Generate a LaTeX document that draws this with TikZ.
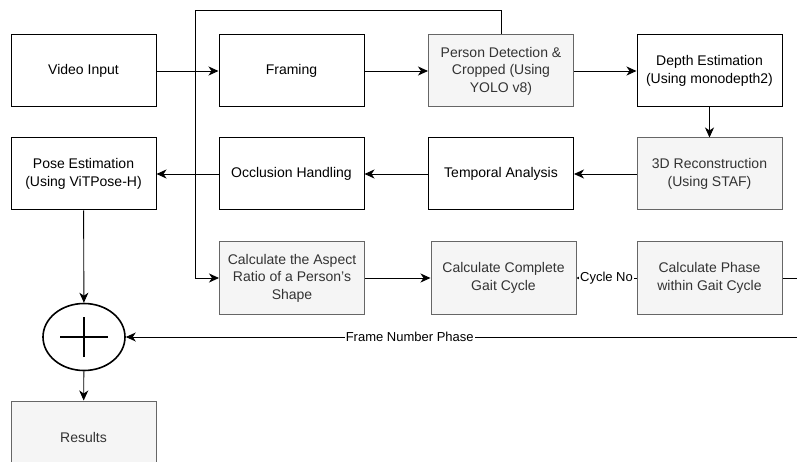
\documentclass[tikz,border=0pt]{standalone}
\usepackage{fontspec}
\setmainfont{Liberation Sans}
\usetikzlibrary{arrows.meta,shapes.geometric}
\definecolor{gfill}{HTML}{F5F5F5}
\definecolor{gline}{HTML}{666666}
\definecolor{gtext}{HTML}{333333}
\tikzset{
  base/.style={rectangle, minimum width=145pt, minimum height=72pt, align=center, inner sep=2pt,
    font=\fontsize{14}{17.5}\selectfont, line width=1pt},
  wbox/.style={base, draw=black, fill=white, text=black},
  gbox/.style={base, draw=gline, fill=gfill, text=gtext},
  arr/.style={draw=black, line width=0.9pt, -{Stealth[length=10pt,width=9pt,inset=3pt]}},
  smallarr/.style={draw=black, line width=0.9pt, -{Stealth[length=3pt,width=3pt]}},
  elabel/.style={fill=white, inner sep=1pt, text=black, font=\fontsize{13}{15}\selectfont},
}
\begin{document}
\begin{tikzpicture}[x=1pt,y=-1pt]
\useasboundingbox (0,0) rectangle (797,462);
\node[wbox] (video) at (83.5,71) {Video Input};
\node[wbox] (framing) at (291.5,71) {Framing};
\node[gbox] (person) at (501,71) {Person Detection \&\\Cropped (Using\\YOLO v8)};
\node[wbox] (depth) at (709.5,71) {Depth Estimation\\(Using monodepth2)};
\node[wbox] (pose) at (83.5,174) {Pose Estimation\\(Using ViTPose-H)};
\node[wbox] (occl) at (291.5,174) {Occlusion Handling};
\node[wbox] (temporal) at (501,174) {Temporal Analysis};
\node[gbox] (recon) at (709.5,174) {3D Reconstruction\\(Using STAF)};
\node[gbox] (aspect) at (292,278) {Calculate the Aspect\\Ratio of a Person's\\Shape};
\node[gbox] (complete) at (503.5,278) {Calculate Complete\\Gait Cycle};
\node[gbox] (phase) at (709.5,278) {Calculate Phase\\within Gait Cycle};
\node[ellipse, draw=black, line width=1.6pt, fill=white, minimum width=82pt, minimum height=67pt, inner sep=0pt] (sum) at (84,337) {};
\draw[line width=1.6pt] ([xshift=-24pt]sum.center) -- ([xshift=24pt]sum.center);
\draw[line width=1.6pt] ([yshift=-20pt]sum.center) -- ([yshift=20pt]sum.center);
\node[gbox] (results) at (83.5,437) {Results};

\coordinate (lt) at (195,10);
\coordinate (re) at (810,337);

\draw[arr] (video) -- (framing);
\draw[arr] (framing) -- (person);
\draw[arr] (person) -- (depth);
\draw[arr] (depth) -- (recon);
\draw[arr] (recon) -- (temporal);
\draw[arr] (temporal) -- (occl);
\draw[arr] (occl) -- (pose);
\draw[arr] (pose) -- (sum);
\draw[arr] (sum) -- (results);
\draw[arr] (person.north) |- (lt) |- (aspect.west);
\draw[arr] (aspect) -- (complete);
\draw[smallarr] (phase.west) -- node[elabel] {Cycle No} (complete.east);
\draw[arr] (phase.east) -| (re) -- node[elabel, pos=0.585] {Frame Number Phase} (sum.east);
\end{tikzpicture}
\end{document}
